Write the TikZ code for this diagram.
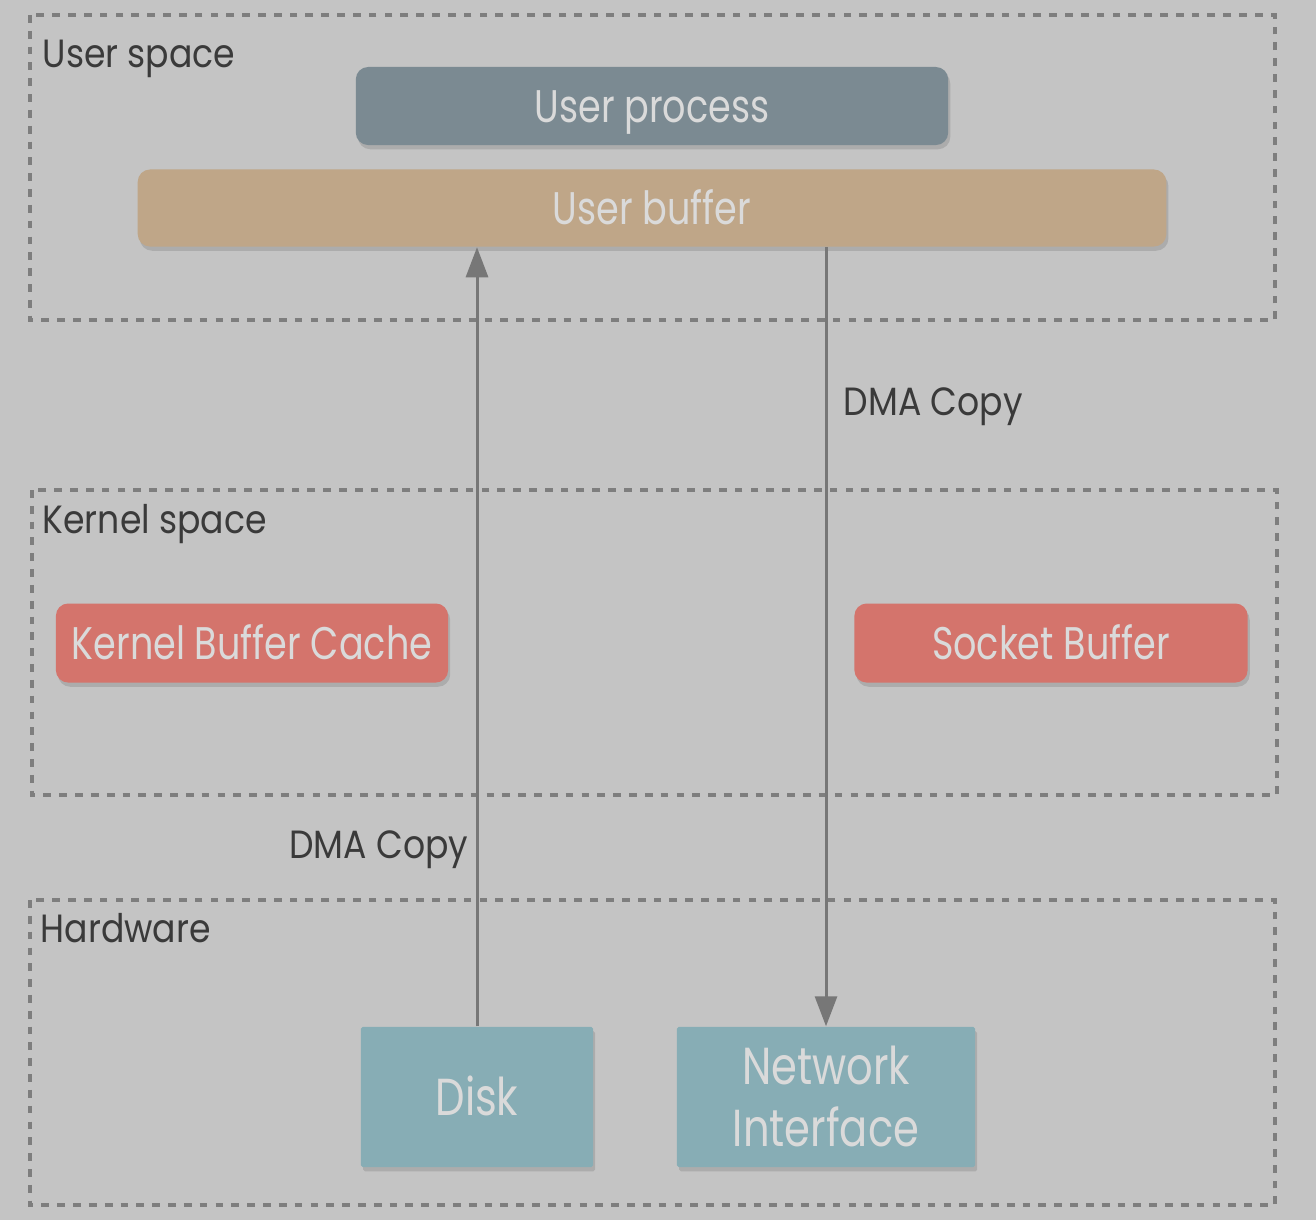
\documentclass[tikz,border=0pt]{standalone}
\usepackage{fontspec}
\setmainfont{Poppins}[FakeStretch=0.88]
\newfontfamily\boxfont{Poppins}[FakeStretch=0.8]
\usepackage{tikz}
\usetikzlibrary{arrows.meta, calc, shadows}
\definecolor{bgcol}{HTML}{C4C4C4}
\definecolor{dashcol}{HTML}{7E7E7E}
\definecolor{arrcol}{HTML}{777777}
\definecolor{proccol}{HTML}{7B8A92}
\definecolor{bufcol}{HTML}{BFA688}
\definecolor{kerncol}{HTML}{D4746C}
\definecolor{hwcol}{HTML}{87ADB5}
\definecolor{boxtext}{HTML}{DADADA}
\definecolor{labtext}{HTML}{3A3A3A}

\begin{document}
\begin{tikzpicture}[x=0.01cm,y=-0.01cm]
    \tikzset{RegionStyle/.style = {draw=dashcol, line width=1.1pt, dash pattern=on 2.2pt off 2.3pt},
        BoxStyle/.style = {shape=rectangle, rounded corners=3.5pt, text=boxtext, inner sep=0,
            font=\boxfont\fontsize{13}{17.6}\selectfont, text height=9.1pt, text depth=0pt,
            drop shadow={opacity=0.35, shadow xshift=0.6pt, shadow yshift=-1.2pt}},
        HwStyle/.style = {BoxStyle, fill=hwcol, rounded corners=0.5pt, minimum height=1.4cm,
            font=\boxfont\fontsize{14.8}{17.6}\selectfont, text height=10.3pt},
        TitleStyle/.style = {text=labtext, inner sep=0, anchor=base west, font=\fontsize{11.2}{13}\selectfont},
        ArrowStyle/.style = {draw=arrcol, line width=0.85pt, -{Triangle[length=0.3cm,width=0.22cm]}}}
    \fill[bgcol] (0,0) rectangle (1316,1220);

    \draw[RegionStyle] (30,15) rectangle (1275,320);
    \draw[RegionStyle] (32,490) rectangle (1277,795);
    \draw[RegionStyle] (30,900) rectangle (1275,1205);
    \node[TitleStyle] at (42,67) (user) {User space};
    \node[TitleStyle] at (42,533) (kernel) {Kernel space};
    \node[TitleStyle] at (40,942) (hw) {Hardware};

    \node[BoxStyle, fill=proccol, minimum width=5.92cm, minimum height=0.78cm] at (652,106) (proc) {User process};
    \node[BoxStyle, fill=bufcol, minimum width=10.28cm, minimum height=0.77cm] at (652,208) (buf) {User buffer};
    \node[BoxStyle, fill=kerncol, minimum width=3.92cm, minimum height=0.79cm] at (252,643) (cache) {Kernel Buffer Cache};
    \node[BoxStyle, fill=kerncol, minimum width=3.93cm, minimum height=0.79cm] at (1051,643) (sock) {Socket Buffer};
    \node[HwStyle, minimum width=2.32cm] at (477,1097) (disk) {Disk};
    \node[HwStyle, minimum width=2.98cm, align=center, text height=27.9pt] at (826,1097) (nic) {Network\\Interface};

    \draw[ArrowStyle] (disk.north) -- (disk.north |- buf.south);
    \draw[ArrowStyle] (nic.north |- buf.south) -- (nic.north);
    \node[TitleStyle] at (843,415) (dmaup) {DMA Copy};
    \node[TitleStyle, anchor=base east] at (469,858) (dmadown) {DMA Copy};
\end{tikzpicture}
\end{document}
